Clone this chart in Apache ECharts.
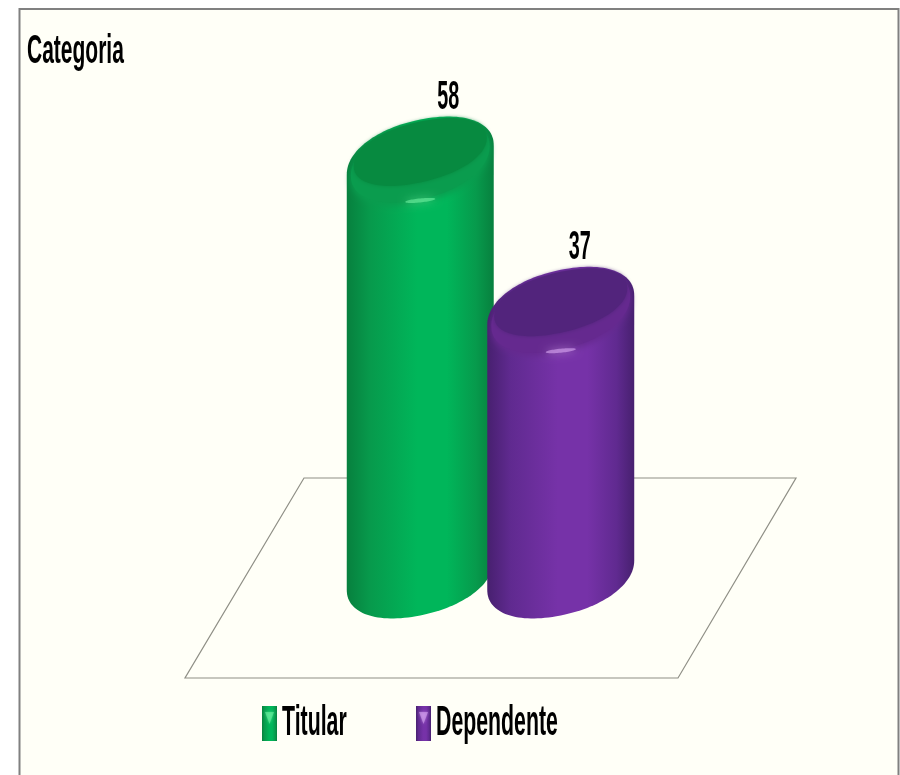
<!DOCTYPE html>
<html>
<head>
<meta charset="utf-8">
<script src="https://cdn.jsdelivr.net/npm/echarts@6/dist/echarts.min.js"></script>
<style>
html, body { margin: 0; padding: 0; background: #fff; }
#main { width: 900px; height: 775px; }
</style>
</head>
<body>
<div id="main"></div>
<script>
var categories = ['Titular', 'Dependente']
var values = [58, 37]
var titleText = 'Categoria'

var fontName = '"Liberation Sans", sans-serif'

// dark edge, shoulder, light middle, top face, rim, highlight for each cylinder
var palette = [
  { edge: '#07803e', side: '#079a4c', mid: '#00b65a', top: '#078a40', rim: '#0a9c4e', glow: '#6ff2a2', labelShift: 28 },
  { edge: '#47206f', side: '#602a90', mid: '#7632a8', top: '#52247c', rim: '#65298f', glow: '#dba8f4', labelShift: 19 }
]

function sideGradient (p) {
  return new echarts.graphic.LinearGradient(0, 0, 1, 0, [
    { offset: 0, color: p.edge },
    { offset: 0.16, color: p.side },
    { offset: 0.48, color: p.mid },
    { offset: 0.68, color: p.mid },
    { offset: 0.88, color: p.side },
    { offset: 1, color: p.edge }
  ])
}

function soft (v) {
  return (v < 0 ? -1 : 1) * Math.pow(Math.abs(v), 0.94)
}

// slightly squared ellipse, tilted up to the right
function arc (cx, cy, w, h, sh, from, to) {
  var out = []
  for (var i = 0; i <= 64; i++) {
    var t = from + (to - from) * i / 64
    var c = soft(Math.cos(t))
    var s = soft(Math.sin(t))
    out.push([cx + w * c, cy + h * s - sh * c])
  }
  return out
}

function cylinder (idx) {
  return function (params, api) {
    var p = palette[idx]
    var val = api.value(1)
    var top = api.coord([api.value(0), val])
    var base = api.coord([api.value(0), 0])
    var w = api.size([1, 0])[0] * 0.523
    var h = w * 0.55
    var sh = w * 0.2
    var PI = Math.PI
    var body = arc(base[0], base[1], w, h, sh, 0, PI).concat(arc(top[0], top[1], w, h, sh, PI, 2 * PI))
    return {
      type: 'group',
      children: [
        { type: 'polygon', shape: { points: body }, style: { fill: sideGradient(p) } },
        {
          type: 'polygon',
          shape: { points: arc(top[0], top[1] + 1, w - 4, h - 2, sh, 0, 2 * PI) },
          style: { fill: p.rim, shadowBlur: 6, shadowOffsetY: 3, shadowColor: p.rim }
        },
        {
          type: 'polygon',
          shape: { points: arc(top[0], top[1] - 8, w - 7, h - 10, sh * 0.95, 0, 2 * PI) },
          style: { fill: p.top, shadowBlur: 4, shadowColor: p.top }
        },
        {
          type: 'polygon',
          shape: { points: arc(top[0], top[1] + h, 15, 2, 1.5, 0, 2 * PI) },
          style: { fill: p.glow, opacity: 0.6, shadowBlur: 9, shadowColor: p.glow }
        },
        {
          type: 'text',
          x: top[0] + p.labelShift,
          y: top[1] - 62,
          scaleX: 0.66,
          scaleY: 1.35,
          style: {
            text: String(val),
            font: 'bold 30px ' + fontName,
            fill: '#000',
            align: 'center',
            verticalAlign: 'middle'
          }
        }
      ]
    }
  }
}

var series = categories.map(function (name, i) {
  return {
    name: name,
    type: 'custom',
    clip: false,
    renderItem: cylinder(i),
    itemStyle: { color: palette[i].mid },
    encode: { x: 0, y: 1 },
    data: [[name, values[i]]]
  }
})

// squeezed text, the reference picture is stretched tall
function squeezed (text, x, y, sx, sy) {
  return {
    type: 'text',
    x: x,
    y: y,
    scaleX: sx,
    scaleY: sy,
    style: { text: text, font: 'bold 30px ' + fontName, fill: '#000', verticalAlign: 'middle' }
  }
}

function legendKey (p, x) {
  return [
    {
      type: 'rect',
      shape: { x: x, y: 706, width: 15, height: 35 },
      style: { fill: sideGradient(p) }
    },
    {
      type: 'polygon',
      shape: { points: [[x + 3, 712], [x + 12, 712], [x + 7.5, 724]] },
      style: { fill: p.glow, opacity: 0.55, shadowBlur: 3, shadowColor: p.glow }
    }
  ]
}

var legendX = [262, 416]
var legendItems = []
categories.forEach(function (name, i) {
  legendItems = legendItems.concat(legendKey(palette[i], legendX[i]))
  legendItems.push(squeezed(name, legendX[i] + 20, 723, 0.71, 1.4))
})

var chart = echarts.init(document.getElementById('main'), null, { renderer: 'canvas' })
chart.setOption({
  animation: false,
  backgroundColor: '#fff',
  grid: { left: 350, width: 281, top: 145.7, height: 429.3 },
  xAxis: { type: 'category', data: categories, show: false },
  yAxis: { type: 'value', min: 0, max: 60, show: false },
  graphic: [
    {
      type: 'rect',
      z: -10,
      shape: { x: 19.5, y: 9, width: 879, height: 790 },
      style: { fill: '#fffff7', stroke: '#808080', lineWidth: 2 }
    },
    {
      type: 'polygon',
      z: -5,
      shape: { points: [[304, 478], [796, 478], [678, 678], [185, 678]] },
      style: { fill: '#fffff7', stroke: '#8f8f86', lineWidth: 1.2 }
    },
    squeezed(titleText, 27, 52, 0.7, 1.33)
  ].concat(legendItems),
  series: series
})
</script>
</body>
</html>
